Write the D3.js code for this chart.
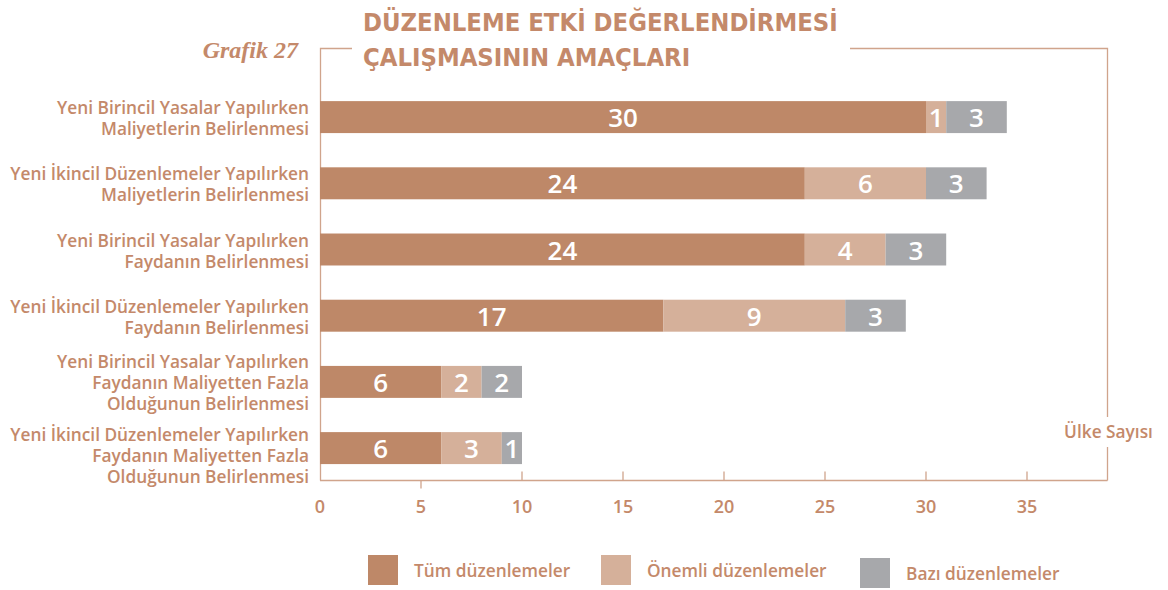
<!DOCTYPE html>
<html><head><meta charset="utf-8">
<script src="https://cdn.jsdelivr.net/npm/d3@7"></script>
<style>body{margin:0;background:#fff;} svg{display:block;font-family:"Open Sans", Roboto, sans-serif;}</style>
</head><body>
<svg id="c" width="1168" height="590"></svg>
<script>
const categories = [
  "Yeni Birincil Yasalar Yapılırken\nMaliyetlerin Belirlenmesi",
  "Yeni İkincil Düzenlemeler Yapılırken\nMaliyetlerin Belirlenmesi",
  "Yeni Birincil Yasalar Yapılırken\nFaydanın Belirlenmesi",
  "Yeni İkincil Düzenlemeler Yapılırken\nFaydanın Belirlenmesi",
  "Yeni Birincil Yasalar Yapılırken\nFaydanın Maliyetten Fazla\nOlduğunun Belirlenmesi",
  "Yeni İkincil Düzenlemeler Yapılırken\nFaydanın Maliyetten Fazla\nOlduğunun Belirlenmesi"
];
const seriesNames = ["Tüm düzenlemeler", "Önemli düzenlemeler", "Bazı düzenlemeler"];
const tum = [30, 24, 24, 17, 6, 6];
const onemli = [1, 6, 4, 9, 2, 3];
const bazi = [3, 3, 3, 3, 2, 1];
const tickValues = [0, 5, 10, 15, 20, 25, 30, 35];
const colors = ["#be8868", "#d5b09a", "#a7a8ab"];
const textColor = "#c4896a";
const lineColor = "#d0a48c";

const svg = d3.select("#c");
const x = d3.scaleLinear().domain([0, 39]).range([320, 1107.8]);
const y = d3.scaleBand().domain(categories).range([84, 481.2]).paddingInner(0.517).paddingOuter(0.2585);

const rows = categories.map((c, i) => ({cat: c, vals: [tum[i], onemli[i], bazi[i]]}));
const stack = d3.stack().keys([0,1,2]).value((d, k) => d.vals[k]);
const stacked = stack(rows);

// frame
const frame = svg.append("g").attr("fill","none").attr("stroke",lineColor).attr("stroke-width",1.3);
frame.append("path").attr("d", `M352,48.5 H320.5 V480.5`);
frame.append("path").attr("d", `M850,48.5 H1107.5 V417`);
frame.append("path").attr("d", `M1107.5,447 V480.5`);

// bars
const g = svg.append("g");
stacked.forEach((layer, k) => {
  g.selectAll(null).data(layer).join("rect")
    .attr("x", d => x(d[0]))
    .attr("y", (d, i) => y(categories[i]))
    .attr("width", d => x(d[1]) - x(d[0]))
    .attr("height", y.bandwidth())
    .attr("fill", colors[k]);
  g.selectAll(null).data(layer).join("text")
    .attr("x", d => (x(d[0]) + x(d[1])) / 2)
    .attr("y", (d, i) => y(categories[i]) + y.bandwidth()/2 + 1)
    .attr("dy", "0.35em")
    .attr("text-anchor", "middle")
    .attr("fill", "#fff")
    .attr("font-size", 26)
    .attr("font-weight", 600)
    .text(d => d[1] - d[0]);
});

// category labels
const lab = svg.append("g");
categories.forEach((c, i) => {
  const lines = c.split("\n");
  const cy = y(c) + y.bandwidth()/2 + 1.5 + (i === categories.length - 1 ? 6 : 0);
  const lh = 21;
  const t = lab.append("text")
    .attr("text-anchor","end").attr("fill",textColor)
    .attr("font-size",17.3).attr("font-weight",600);
  lines.forEach((l, j) => {
    t.append("tspan").attr("x", 309)
      .attr("y", cy + (j - (lines.length-1)/2) * lh)
      .attr("dy","0.35em").text(l);
  });
});

// x axis
const ax = svg.append("g").attr("transform","translate(0,480.5)");
ax.append("line").attr("x1",320).attr("x2",1107.5).attr("stroke",lineColor).attr("stroke-width",1.3);
ax.selectAll(".tk").data(tickValues.filter(v => v > 0)).join("line")
  .attr("x1", d => x(d)).attr("x2", d => x(d))
  .attr("y1", d => d === 5 ? 0 : -9).attr("y2", d => d === 5 ? 8 : 0)
  .attr("stroke", lineColor).attr("stroke-width",1.3);
ax.selectAll(".tl").data(tickValues).join("text")
  .attr("x", d => x(d)).attr("y", 26).attr("dy","0.35em")
  .attr("text-anchor","middle").attr("fill",textColor)
  .attr("font-size",18).attr("font-weight",600)
  .text(d => d);

svg.append("text").attr("x",1108.5).attr("y",432).attr("dy","0.35em")
  .attr("text-anchor","middle").attr("fill",textColor)
  .attr("font-size",17.3).attr("font-weight",600).text("Ülke Sayısı");

// title
svg.append("text").attr("x",363).attr("y",22).attr("dy","0.35em")
  .attr("fill",textColor).attr("font-size",25.4).attr("font-weight",700)
  .attr("font-family","'DejaVu Sans Condensed', 'DejaVu Sans', sans-serif")
  .text("DÜZENLEME ETKİ DEĞERLENDİRMESİ");
svg.append("text").attr("x",363).attr("y",57).attr("dy","0.35em")
  .attr("fill",textColor).attr("font-size",25.4).attr("font-weight",700)
  .attr("font-family","'DejaVu Sans Condensed', 'DejaVu Sans', sans-serif")
  .text("ÇALIŞMASININ AMAÇLARI");
svg.append("text").attr("x",298).attr("y",50).attr("dy","0.35em")
  .attr("text-anchor","end").attr("fill",textColor)
  .attr("font-size",24).attr("font-weight",700).attr("font-style","italic")
  .attr("font-family","'Liberation Serif', 'DejaVu Serif', serif")
  .text("Grafik 27");

// legend
const legX = [368, 601, 860];
const legY = [555, 555, 558];
const leg = svg.append("g");
seriesNames.forEach((n, i) => {
  leg.append("rect").attr("x", legX[i]).attr("y", legY[i]).attr("width",30).attr("height",30).attr("fill",colors[i]);
  leg.append("text").attr("x", legX[i] + 46).attr("y", legY[i] + 16).attr("dy","0.35em")
    .attr("fill",textColor).attr("font-size",17.3).attr("font-weight",600).text(n);
});
</script>
</body></html>
